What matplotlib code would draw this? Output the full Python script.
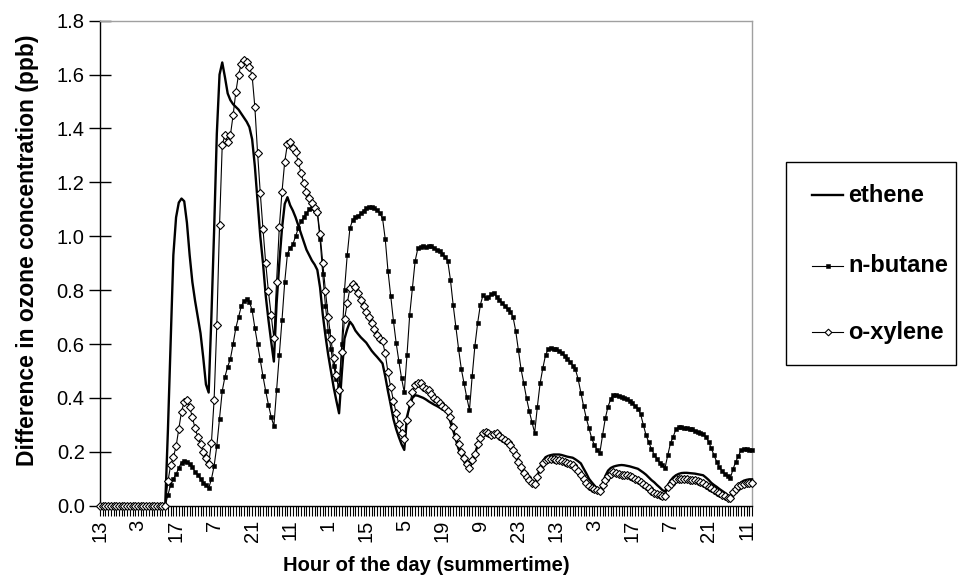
import numpy as np
import matplotlib as mpl
mpl.use('Agg')
import matplotlib.pyplot as plt
from matplotlib.lines import Line2D
from matplotlib.patches import Rectangle

plt.rcParams['font.family'] = ['Liberation Sans', 'DejaVu Sans']

# hourly values, first point is 13:00 of day 1
start_hour = 13
label_step = 14

ethene = [
    0, 0, 0, 0, 0, 0, 0, 0, 0, 0,
    0, 0, 0, 0, 0, 0, 0, 0, 0, 0,
    0, 0, 0, 0, 0, 0.28, 0.60, 0.93, 1.07, 1.125,
    1.14, 1.13, 1.05, 0.93, 0.83, 0.76, 0.70, 0.64, 0.55, 0.45,
    0.42, 0.70, 1.02, 1.38, 1.60, 1.645, 1.59, 1.53, 1.505, 1.49,
    1.48, 1.47, 1.455, 1.44, 1.425, 1.405, 1.36, 1.26, 1.13, 1.00,
    0.90, 0.78, 0.69, 0.61, 0.535, 0.75, 0.90, 1.03, 1.12, 1.145,
    1.115, 1.095, 1.07, 1.04, 1.01, 0.98, 0.95, 0.93, 0.91, 0.895,
    0.875, 0.81, 0.71, 0.63, 0.56, 0.50, 0.44, 0.39, 0.343, 0.49,
    0.62, 0.655, 0.683, 0.67, 0.65, 0.637, 0.625, 0.615, 0.605, 0.59,
    0.575, 0.563, 0.552, 0.54, 0.528, 0.48, 0.425, 0.375, 0.322, 0.285,
    0.255, 0.228, 0.207, 0.33, 0.37, 0.40, 0.41, 0.408, 0.404, 0.40,
    0.394, 0.387, 0.381, 0.375, 0.37, 0.364, 0.358, 0.352, 0.345, 0.31,
    0.28, 0.245, 0.21, 0.19, 0.165, 0.148, 0.135, 0.165, 0.19, 0.225,
    0.25, 0.268, 0.272, 0.268, 0.262, 0.265, 0.265, 0.257, 0.25, 0.24,
    0.232, 0.222, 0.205, 0.185, 0.16, 0.14, 0.12, 0.105, 0.093, 0.083,
    0.08, 0.11, 0.14, 0.165, 0.18, 0.185, 0.188, 0.19, 0.19, 0.19,
    0.188, 0.185, 0.182, 0.18, 0.178, 0.172, 0.165, 0.157, 0.138, 0.12,
    0.10, 0.087, 0.075, 0.064, 0.056, 0.08, 0.11, 0.13, 0.14, 0.145,
    0.148, 0.15, 0.151, 0.15, 0.148, 0.146, 0.143, 0.14, 0.137, 0.13,
    0.123, 0.115, 0.105, 0.095, 0.087, 0.077, 0.068, 0.058, 0.052, 0.075,
    0.093, 0.105, 0.113, 0.118, 0.121, 0.122, 0.122, 0.121, 0.12, 0.119,
    0.117, 0.115, 0.113, 0.105, 0.096, 0.085, 0.077, 0.07, 0.062, 0.055,
    0.048, 0.04, 0.033, 0.052, 0.065, 0.078, 0.087, 0.093, 0.096, 0.098,
    0.098,
]

n_butane = [
    0, 0, 0, 0, 0, 0, 0, 0, 0, 0,
    0, 0, 0, 0, 0, 0, 0, 0, 0, 0,
    0, 0, 0, 0, 0, 0.04, 0.077, 0.10, 0.116, 0.141,
    0.16, 0.167, 0.163, 0.155, 0.143, 0.126, 0.114, 0.099, 0.085, 0.077,
    0.065, 0.098, 0.147, 0.222, 0.322, 0.426, 0.479, 0.516, 0.545, 0.60,
    0.66, 0.70, 0.74, 0.76, 0.766, 0.757, 0.725, 0.66, 0.60, 0.54,
    0.48, 0.425, 0.375, 0.33, 0.296, 0.43, 0.56, 0.69, 0.83, 0.935,
    0.957, 0.97, 1.00, 1.03, 1.055, 1.07, 1.085, 1.10, 1.104, 1.098,
    1.085, 0.99, 0.86, 0.74, 0.65, 0.58, 0.52, 0.47, 0.44, 0.60,
    0.80, 0.93, 1.03, 1.06, 1.07, 1.075, 1.085, 1.095, 1.104, 1.108,
    1.108, 1.104, 1.098, 1.085, 1.067, 0.989, 0.872, 0.778, 0.687, 0.605,
    0.537, 0.473, 0.421, 0.559, 0.708, 0.807, 0.908, 0.955, 0.96, 0.962,
    0.96, 0.965, 0.962, 0.958, 0.95, 0.945, 0.935, 0.924, 0.908, 0.838,
    0.745, 0.662, 0.581, 0.507, 0.454, 0.402, 0.355, 0.481, 0.593, 0.677,
    0.745, 0.782, 0.77, 0.775, 0.785, 0.788, 0.775, 0.765, 0.752, 0.74,
    0.729, 0.72, 0.702, 0.65, 0.578, 0.506, 0.454, 0.399, 0.352, 0.31,
    0.271, 0.368, 0.454, 0.51, 0.559, 0.581, 0.585, 0.58, 0.58, 0.575,
    0.565, 0.555, 0.545, 0.535, 0.52, 0.506, 0.47, 0.42, 0.37, 0.325,
    0.287, 0.25, 0.225, 0.208, 0.197, 0.262, 0.324, 0.368, 0.395, 0.411,
    0.41, 0.408, 0.405, 0.40, 0.395, 0.39, 0.38, 0.37, 0.36, 0.34,
    0.30, 0.262, 0.235, 0.21, 0.19, 0.175, 0.16, 0.15, 0.141, 0.188,
    0.232, 0.256, 0.284, 0.291, 0.292, 0.29, 0.288, 0.286, 0.283, 0.279,
    0.273, 0.269, 0.265, 0.256, 0.238, 0.213, 0.188, 0.163, 0.143, 0.13,
    0.118, 0.11, 0.102, 0.135, 0.163, 0.184, 0.207, 0.21, 0.21, 0.207,
    0.205,
]

o_xylene = [
    0, 0, 0, 0, 0, 0, 0, 0, 0, 0,
    0, 0, 0, 0, 0, 0, 0, 0, 0, 0,
    0, 0, 0, 0, 0, 0.09, 0.15, 0.18, 0.22, 0.284,
    0.349, 0.386, 0.392, 0.368, 0.328, 0.287, 0.256, 0.229, 0.20, 0.178,
    0.155, 0.232, 0.392, 0.671, 1.04, 1.34, 1.375, 1.35, 1.375, 1.45,
    1.535, 1.60, 1.64, 1.655, 1.645, 1.63, 1.595, 1.48, 1.31, 1.16,
    1.026, 0.90, 0.795, 0.708, 0.621, 0.832, 1.033, 1.166, 1.277, 1.343,
    1.35, 1.327, 1.312, 1.277, 1.234, 1.197, 1.166, 1.141, 1.122, 1.104,
    1.091, 1.009, 0.90, 0.795, 0.702, 0.618, 0.547, 0.485, 0.43, 0.572,
    0.692, 0.751, 0.807, 0.823, 0.813, 0.788, 0.764, 0.741, 0.72, 0.70,
    0.678, 0.655, 0.635, 0.62, 0.61, 0.565, 0.495, 0.44, 0.39, 0.345,
    0.303, 0.269, 0.246, 0.318, 0.38, 0.421, 0.448, 0.457, 0.454, 0.442,
    0.433, 0.43, 0.415, 0.401, 0.392, 0.382, 0.37, 0.361, 0.351, 0.33,
    0.293, 0.256, 0.228, 0.20, 0.176, 0.155, 0.139, 0.17, 0.192, 0.228,
    0.252, 0.27, 0.275, 0.27, 0.264, 0.265, 0.268, 0.26, 0.252, 0.244,
    0.235, 0.225, 0.207, 0.188, 0.163, 0.143, 0.122, 0.108, 0.095, 0.085,
    0.082, 0.108, 0.135, 0.157, 0.17, 0.173, 0.175, 0.172, 0.17, 0.17,
    0.167, 0.163, 0.16, 0.155, 0.15, 0.139, 0.127, 0.114, 0.098, 0.085,
    0.072, 0.065, 0.061, 0.058, 0.056, 0.077, 0.095, 0.11, 0.118, 0.124,
    0.122, 0.118, 0.115, 0.115, 0.113, 0.11, 0.105, 0.10, 0.095, 0.088,
    0.08, 0.072, 0.064, 0.055, 0.048, 0.044, 0.04, 0.037, 0.036, 0.068,
    0.082, 0.093, 0.098, 0.10, 0.10, 0.099, 0.098, 0.097, 0.096, 0.095,
    0.092, 0.088, 0.083, 0.077, 0.071, 0.065, 0.059, 0.052, 0.046, 0.041,
    0.035, 0.03, 0.027, 0.05, 0.063, 0.072, 0.077, 0.082, 0.085, 0.085,
    0.083,
]

series_names = ['ethene', 'n-butane', 'o-xylene']

hours = np.arange(len(ethene))
tick_pos = hours[::label_step]
tick_labels = [str((start_hour + h) % 24) for h in tick_pos]

W, H = 960, 586
fig = plt.figure(figsize=(W / 100, H / 100), dpi=100)
ax = fig.add_axes([100 / W, 80.3 / H, 652 / W, 485 / H])

line_styles = [
    dict(color='black', lw=1.7),
    dict(color='black', lw=0.8),
    dict(color='black', lw=0.8),
]
marker_styles = [
    None,
    dict(marker='s', mfc='black', mec='black', mew=0.4),
    dict(marker='D', mfc='white', mec='black', mew=0.8),
]
plot_ms = [0, 3.4, 4.2]
legend_ms = [0, 2.4, 3.4]

for z, vals in enumerate([ethene, n_butane, o_xylene]):
    kw = dict(line_styles[z])
    if marker_styles[z]:
        kw.update(marker_styles[z], ms=plot_ms[z])
    ax.plot(np.arange(len(vals)), vals, zorder=3 + z, clip_on=False, **kw)

ax.set_xlim(0, len(ethene) - 1)
ax.set_ylim(0, 1.8)
ax.set_yticks(np.arange(0, 1.81, 0.2))
ax.set_yticklabels(['%.1f' % v for v in np.arange(0, 1.81, 0.2)])
ax.set_xticks(tick_pos)
ax.set_xticklabels(tick_labels, rotation=90)
ax.set_xticks(hours, minor=True)

ax.tick_params(axis='y', direction='inout', length=16, width=1,
               labelsize=14.5, pad=3)
ax.tick_params(axis='x', which='both', direction='out', length=7,
               width=0.8, labelsize=14.5, pad=3)

for side in ['left', 'bottom']:
    ax.spines[side].set_color('black')
    ax.spines[side].set_linewidth(1)
for side in ['top', 'right']:
    ax.spines[side].set_color('#a0a0a0')
    ax.spines[side].set_linewidth(1)

ax.set_ylabel('Difference in ozone concentration (ppb)', fontsize=16.5,
              fontweight='bold')
ax.yaxis.set_label_coords(-0.093, 0.527)
ax.set_xlabel('Hour of the day (summertime)', fontsize=14.5,
              fontweight='bold', labelpad=10)

# legend box drawn by hand to get the Excel-like padding
def fx(px):
    return px / W

def fy(py):
    return 1 - py / H

fig.patches.append(Rectangle((fx(786), fy(365)), fx(956) - fx(786),
                             fy(162) - fy(365), transform=fig.transFigure,
                             facecolor='white', edgecolor='black', lw=1))
leg_rows = [195, 266, 332]
for i, (name, row) in enumerate(zip(series_names, leg_rows)):
    fig.add_artist(Line2D([fx(812), fx(843)], [fy(row), fy(row)],
                          transform=fig.transFigure, **line_styles[i]))
    if marker_styles[i]:
        fig.add_artist(Line2D([fx(827.5)], [fy(row)], linestyle='none',
                              transform=fig.transFigure, ms=legend_ms[i],
                              **marker_styles[i]))
    fig.text(fx(848), fy(row), name, fontsize=17, fontweight='bold',
             va='center', ha='left')

fig.savefig('out.png', dpi=100)
